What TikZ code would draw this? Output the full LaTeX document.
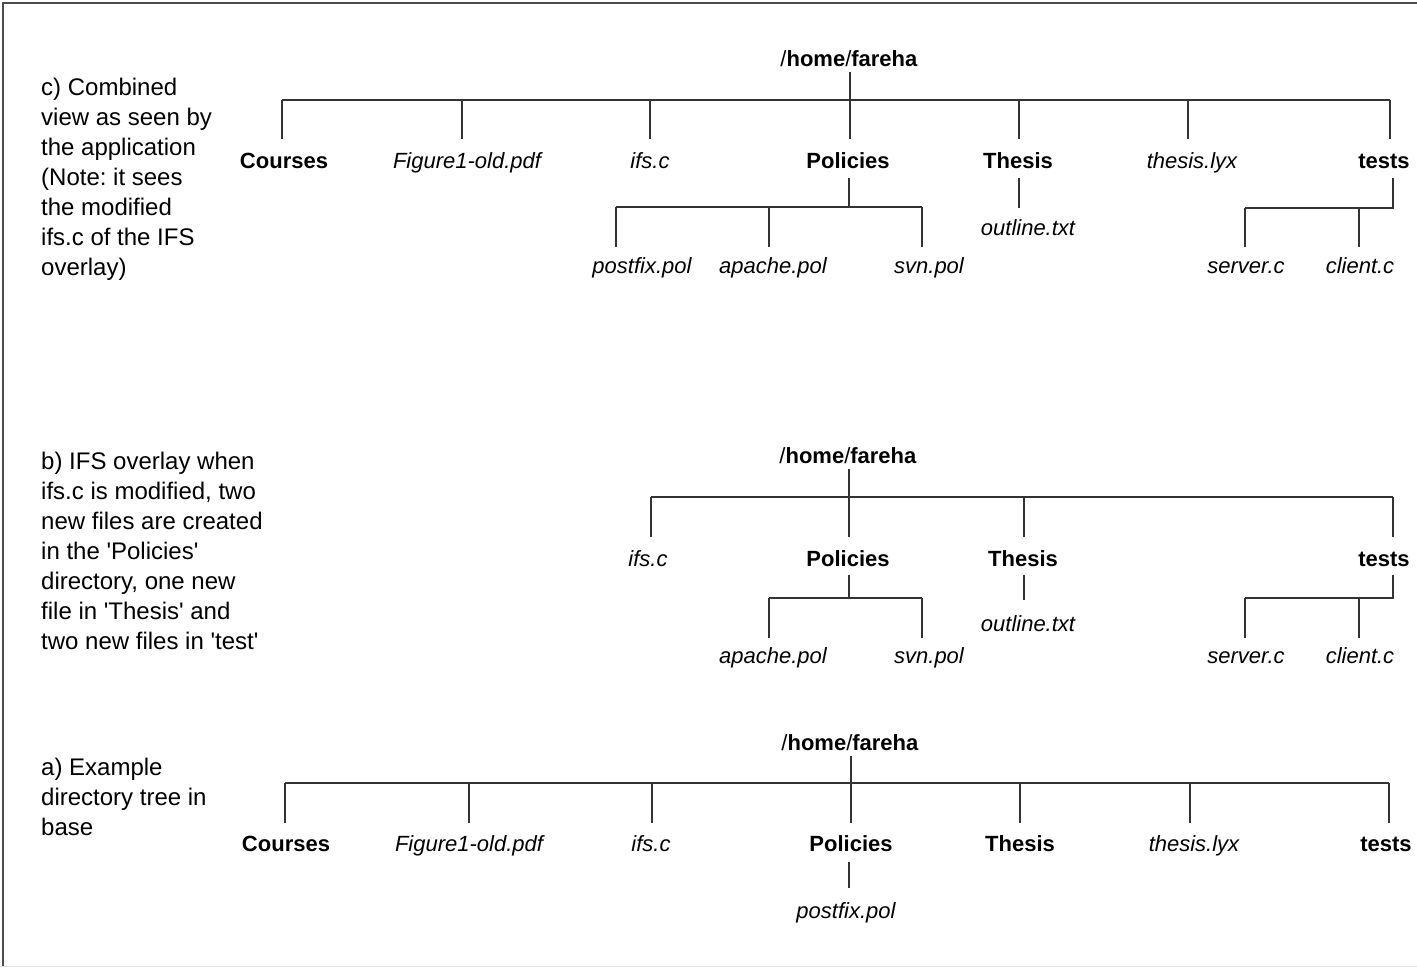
\documentclass[tikz,border=0pt]{standalone}
\usepackage{fontspec}
\setmainfont{Liberation Sans}[Ligatures=TeXOff]
\frenchspacing
\begin{document}
\begin{tikzpicture}[x=1pt,y=-1pt,
  lbl/.style={anchor=base, inner sep=0pt, text height=16pt, text depth=5pt, font=\fontsize{22}{30}\selectfont},
  dir/.style={lbl, font=\fontsize{22}{30}\selectfont\bfseries},
  file/.style={lbl, font=\fontsize{22}{30}\selectfont\itshape},
  note/.style={anchor=north west, align=left, inner sep=0pt, font=\fontsize{24}{30}\selectfont\frenchspacing},
  ln/.style={draw=black!80, line width=1.2pt},
  frame/.style={draw=black!70, line width=1.5pt}]
\useasboundingbox (0,0) rectangle (1417,967);
\fill[white] (0,0) rectangle (1417,967);
\draw[frame] (3,967) -- (3,3) -- (1417,3);
\draw[black!12, line width=1pt] (0,966) -- (1417,966);

% ---------- notes ----------
\node[note] (cNote) at (41,78) {c) Combined\\view as seen by\\the application\\(Note: it sees\\the modified\\ifs.c of the IFS\\overlay)};
\node[note] (bNote) at (41,452) {b) IFS overlay when\\ifs.c is modified, two\\new files are created\\in the 'Policies'\\directory, one new\\file in 'Thesis' and\\two new files in 'test'};
\node[note] (aNote) at (41,758) {a) Example\\directory tree in\\base};

% ---------- tree c ----------
\node[lbl] (cR) at (849,66) {/\textbf{home}/\textbf{fareha}};
\node[dir] (cCourses) at (284,168) {Courses};
\node[file] (cFig) at (467,168) {Figure1-old.pdf};
\node[file] (cIfs) at (650,168) {ifs.c};
\node[dir] (cPol) at (848,168) {Policies};
\node[dir] (cThe) at (1018,168) {Thesis};
\node[file] (cLyx) at (1192,168) {thesis.lyx};
\node[dir] (cTes) at (1384,168) {tests};
\coordinate (cd1) at (282,100);
\coordinate (cd2) at (462,100);
\coordinate (cd3) at (650,100);
\coordinate (cd4) at (850,100);
\coordinate (cd5) at (1019,100);
\coordinate (cd6) at (1188,100);
\coordinate (cd7) at (1390,100);
\draw[ln, shorten <=1pt] (cR.south -| cd4) -- (cd4);
\draw[ln] (cd1) -- (cd7);
\draw[ln, shorten >=13pt] (cd1) -- (cd1 |- cCourses.north);
\draw[ln, shorten >=13pt] (cd2) -- (cd2 |- cFig.north);
\draw[ln, shorten >=13pt] (cd3) -- (cd3 |- cIfs.north);
\draw[ln, shorten >=13pt] (cd4) -- (cd4 |- cPol.north);
\draw[ln, shorten >=13pt] (cd5) -- (cd5 |- cThe.north);
\draw[ln, shorten >=13pt] (cd6) -- (cd6 |- cLyx.north);
\draw[ln, shorten >=13pt] (cd7) -- (cd7 |- cTes.north);
% Policies
\node[file] (cPost) at (642,273) {postfix.pol};
\node[file] (cApa) at (773,273) {apache.pol};
\node[file] (cSvn) at (929,273) {svn.pol};
\coordinate (cpj) at (849,207);
\coordinate (cp1) at (616,207);
\coordinate (cp2) at (769,207);
\coordinate (cp3) at (922,207);
\draw[ln, shorten <=5pt] (cPol.south -| cpj) -- (cpj);
\draw[ln] (cp1) -- (cp3);
\draw[ln, shorten >=10pt] (cp1) -- (cp1 |- cPost.north);
\draw[ln, shorten >=10pt] (cp2) -- (cp2 |- cApa.north);
\draw[ln, shorten >=10pt] (cp3) -- (cp3 |- cSvn.north);
% Thesis
\node[file] (cOut) at (1028,235) {outline.txt};
\draw[ln, shorten <=5pt, shorten >=11pt] (cThe.south -| cd5) -- (cd5 |- cOut.north);
% tests
\node[file] (cSer) at (1246,273) {server.c};
\node[file] (cCli) at (1360,273) {client.c};
\coordinate (ctj) at (1393,208);
\coordinate (ct1) at (1245,208);
\coordinate (ct2) at (1359,208);
\draw[ln, shorten <=5pt] (cTes.south -| ctj) -- (ctj) -- (ct1);
\draw[ln, shorten >=10pt] (ct1) -- (ct1 |- cSer.north);
\draw[ln, shorten >=10pt] (ct2) -- (ct2 |- cCli.north);

% ---------- tree b ----------
\node[lbl] (bR) at (848,463) {/\textbf{home}/\textbf{fareha}};
\node[file] (bIfs) at (648,566) {ifs.c};
\node[dir] (bPol) at (848,566) {Policies};
\node[dir] (bThe) at (1023,566) {Thesis};
\node[dir] (bTes) at (1384,566) {tests};
\coordinate (bd1) at (651,497);
\coordinate (bd2) at (849,497);
\coordinate (bd3) at (1024,497);
\coordinate (bd4) at (1393,497);
\draw[ln, shorten <=1pt] (bR.south -| bd2) -- (bd2);
\draw[ln] (bd1) -- (bd4);
\draw[ln, shorten >=13pt] (bd1) -- (bd1 |- bIfs.north);
\draw[ln, shorten >=13pt] (bd2) -- (bd2 |- bPol.north);
\draw[ln, shorten >=13pt] (bd3) -- (bd3 |- bThe.north);
\draw[ln, shorten >=13pt] (bd4) -- (bd4 |- bTes.north);
% Policies
\node[file] (bApa) at (773,663) {apache.pol};
\node[file] (bSvn) at (929,663) {svn.pol};
\coordinate (bpj) at (849,598);
\coordinate (bp1) at (769,598);
\coordinate (bp2) at (922,598);
\draw[ln, shorten <=4pt] (bPol.south -| bpj) -- (bpj);
\draw[ln] (bp1) -- (bp2);
\draw[ln, shorten >=9pt] (bp1) -- (bp1 |- bApa.north);
\draw[ln, shorten >=9pt] (bp2) -- (bp2 |- bSvn.north);
% Thesis
\node[file] (bOut) at (1028,631) {outline.txt};
\draw[ln, shorten <=4pt, shorten >=15pt] (bThe.south -| bd3) -- (bd3 |- bOut.north);
% tests
\node[file] (bSer) at (1246,663) {server.c};
\node[file] (bCli) at (1360,663) {client.c};
\coordinate (btj) at (1393,598);
\coordinate (bt1) at (1245,598);
\coordinate (bt2) at (1359,598);
\draw[ln, shorten <=4pt] (bTes.south -| btj) -- (btj) -- (bt1);
\draw[ln, shorten >=9pt] (bt1) -- (bt1 |- bSer.north);
\draw[ln, shorten >=9pt] (bt2) -- (bt2 |- bCli.north);

% ---------- tree a ----------
\node[lbl] (aR) at (850,750) {/\textbf{home}/\textbf{fareha}};
\node[dir] (aCourses) at (286,851) {Courses};
\node[file] (aFig) at (469,851) {Figure1-old.pdf};
\node[file] (aIfs) at (651,851) {ifs.c};
\node[dir] (aPol) at (851,851) {Policies};
\node[dir] (aThe) at (1020,851) {Thesis};
\node[file] (aLyx) at (1194,851) {thesis.lyx};
\node[dir] (aTes) at (1386,851) {tests};
\coordinate (ad1) at (285,783);
\coordinate (ad2) at (469,783);
\coordinate (ad3) at (652,783);
\coordinate (ad4) at (851,783);
\coordinate (ad5) at (1020,783);
\coordinate (ad6) at (1190,783);
\coordinate (ad7) at (1389,783);
\draw[ln, shorten <=1pt] (aR.south -| ad4) -- (ad4);
\draw[ln] (ad1) -- (ad7);
\draw[ln, shorten >=12pt] (ad1) -- (ad1 |- aCourses.north);
\draw[ln, shorten >=12pt] (ad2) -- (ad2 |- aFig.north);
\draw[ln, shorten >=12pt] (ad3) -- (ad3 |- aIfs.north);
\draw[ln, shorten >=12pt] (ad4) -- (ad4 |- aPol.north);
\draw[ln, shorten >=12pt] (ad5) -- (ad5 |- aThe.north);
\draw[ln, shorten >=12pt] (ad6) -- (ad6 |- aLyx.north);
\draw[ln, shorten >=12pt] (ad7) -- (ad7 |- aTes.north);
% Policies
\node[file] (aPost) at (846,918) {postfix.pol};
\draw[ln, shorten <=6pt, shorten >=14pt] (aPol.south -| 849,0) -- (aPost.north -| 849,0);
\end{tikzpicture}
\end{document}
